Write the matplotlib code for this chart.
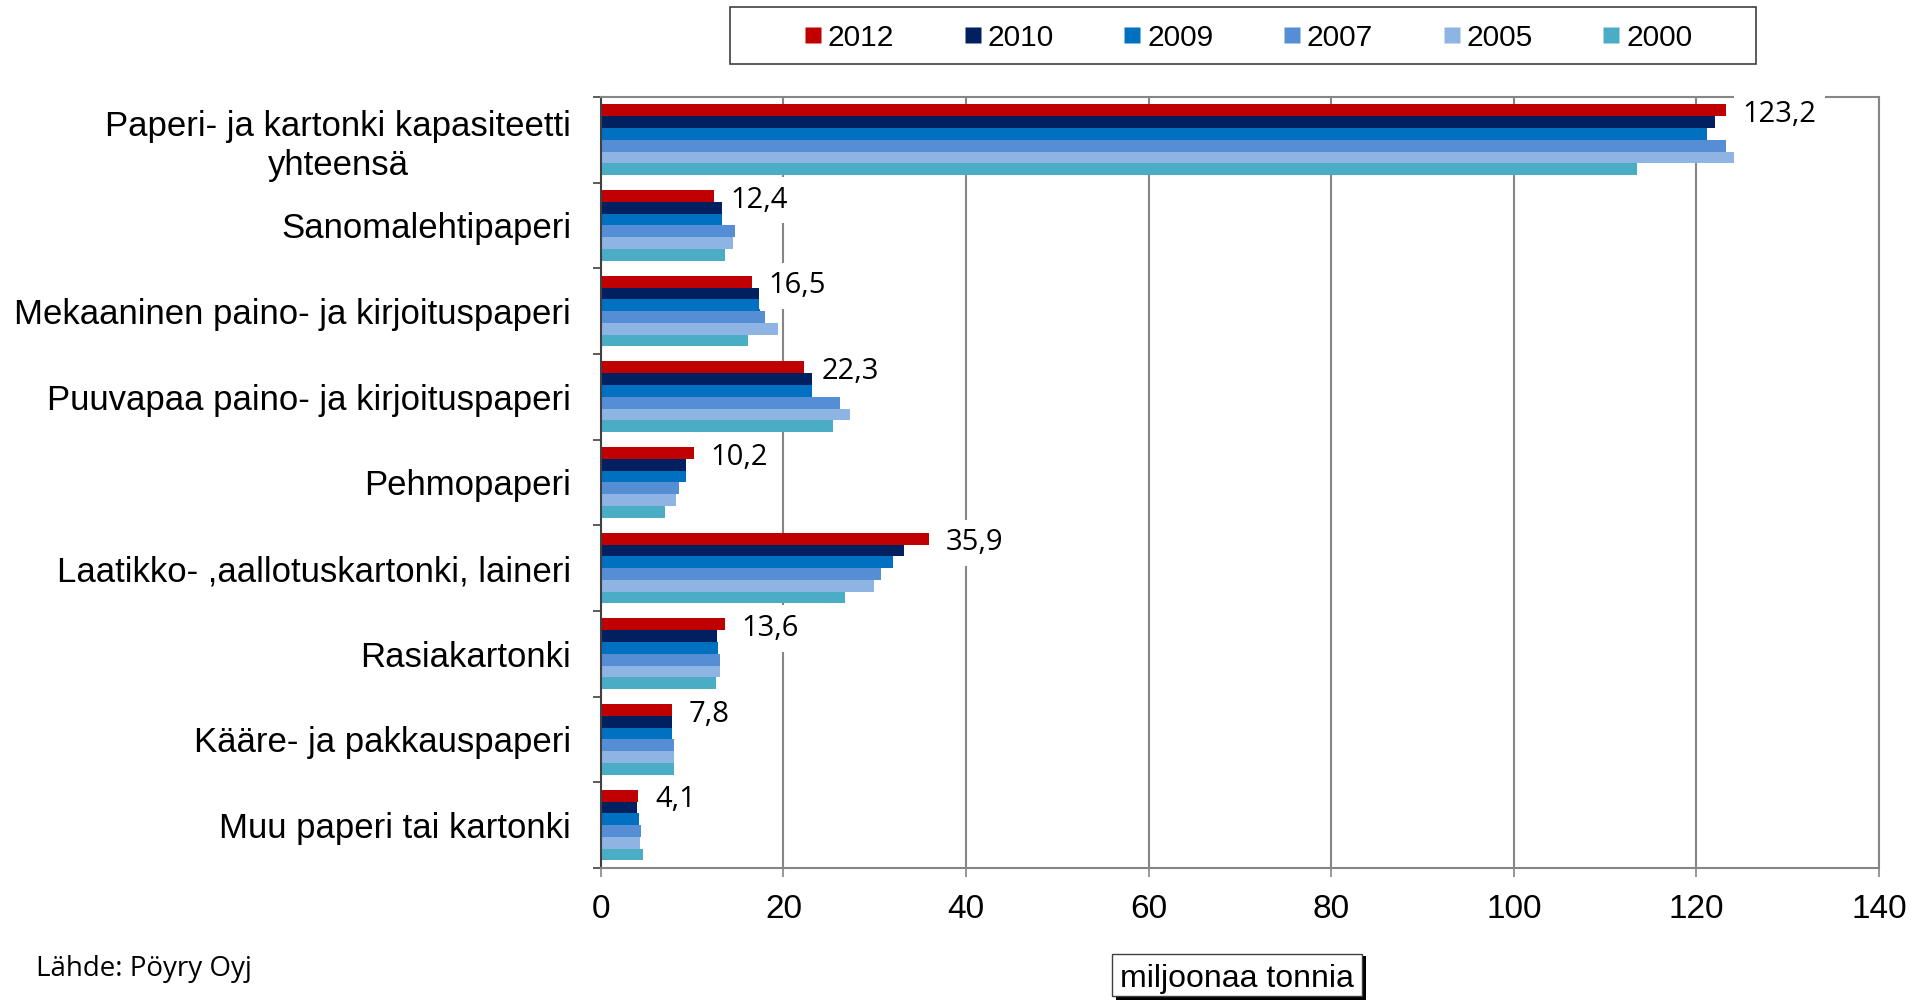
import matplotlib.pyplot as plt
from matplotlib.lines import Line2D
from matplotlib.patches import Rectangle
import numpy as np

kategoriat = [
    "Paperi- ja kartonki kapasiteetti\nyhteensä",
    "Sanomalehtipaperi",
    "Mekaaninen paino- ja kirjoituspaperi",
    "Puuvapaa paino- ja kirjoituspaperi",
    "Pehmopaperi",
    "Laatikko- ,aallotuskartonki, laineri",
    "Rasiakartonki",
    "Kääre- ja pakkauspaperi",
    "Muu paperi tai kartonki",
]
vuodet = ["2012", "2010", "2009", "2007", "2005", "2000"]
v2012 = [123.2, 12.4, 16.5, 22.3, 10.2, 35.9, 13.6, 7.8, 4.1]
v2010 = [122.0, 13.3, 17.4, 23.1, 9.3, 33.2, 12.7, 7.8, 4.0]
v2009 = [121.2, 13.3, 17.4, 23.1, 9.3, 32.0, 12.8, 7.8, 4.2]
v2007 = [123.2, 14.7, 18.0, 26.2, 8.5, 30.7, 13.0, 8.0, 4.4]
v2005 = [124.1, 14.5, 19.4, 27.3, 8.2, 29.9, 13.0, 8.0, 4.3]
v2000 = [113.5, 13.6, 16.1, 25.4, 7.0, 26.7, 12.6, 8.0, 4.6]
sarjat = [v2012, v2010, v2009, v2007, v2005, v2000]
varit = ["#C00000", "#002060", "#0070C0", "#558ED5", "#8EB4E3", "#4BACC6"]

harmaa = "#868686"

fig = plt.figure(figsize=(19.26, 10.01), dpi=100)
ax = fig.add_axes([0.3120, 0.1329, 0.6636, 0.7702])

y = np.arange(len(kategoriat))
h = 0.1375
for j, (arvot, vari) in enumerate(zip(sarjat, varit)):
    ax.barh(y - 0.4125 + h * (j + 0.5), arvot, height=h, color=vari,
            edgecolor="none", zorder=2)

# arvot 2012 palkkien perään
for i, arvo in enumerate(v2012):
    ax.annotate(f"{arvo:.1f}".replace(".", ","),
                xy=(arvo, y[i] - 0.4125 + h * 0.5), xytext=(12, -3),
                textcoords="offset points", ha="left", va="center",
                fontsize=21, family="Open Sans", zorder=5,
                bbox=dict(boxstyle="square,pad=0.3", fc="white", ec="none"))

ax.set_xlim(0, 140)
ax.set_ylim(len(kategoriat) - 0.5, -0.5)
ax.set_xticks(range(0, 141, 20))
ax.xaxis.grid(True, color=harmaa, linewidth=1.5)
ax.set_axisbelow(True)

ax.set_yticks(y)
ax.set_yticklabels(kategoriat, fontsize=25, family="Liberation Sans",
                   multialignment="center")
ax.set_yticks(np.arange(-0.5, len(kategoriat)), minor=True)
ax.tick_params(axis="y", which="major", length=0, pad=21.5)
ax.tick_params(axis="y", which="minor", length=6, width=1.2, color="#404040")
ax.tick_params(axis="x", length=6.5, width=1.2, color=harmaa, pad=12,
               labelsize=24)
for t in ax.get_xticklabels():
    t.set_family("Liberation Sans")

for s in ["top", "right", "bottom"]:
    ax.spines[s].set_color(harmaa)
    ax.spines[s].set_linewidth(1.5)
ax.spines["left"].set_color("#404040")
ax.spines["left"].set_linewidth(1.5)

# selite
kahvat = [Line2D([], [], marker="s", linestyle="none", markersize=12,
                 markerfacecolor=c, markeredgecolor="none") for c in varit]
fig.patches.append(Rectangle((730 / 1926, 1 - 64 / 1001), 1026 / 1926, 57 / 1001,
                             transform=fig.transFigure, fc="white",
                             ec="#404040", lw=1.2, zorder=1))
fig.legend(kahvat, vuodet, loc="center", bbox_to_anchor=(0.648, 0.9625),
           ncol=6, frameon=False, handlelength=0.6, handletextpad=0.2,
           columnspacing=2.33, prop={"family": "Liberation Sans", "size": 21.5})

fig.text(36 / 1926, 1 - 969 / 1001, "Lähde: Pöyry Oyj", ha="left", va="center",
         fontsize=20, family="Open Sans")

# yksikkölaatikko varjolla
fig.patches.append(Rectangle((1116 / 1926, 1 - 1000 / 1001), 250 / 1926, 44 / 1001,
                             transform=fig.transFigure, fc="black", ec="none"))
fig.patches.append(Rectangle((1112 / 1926, 1 - 996 / 1001), 250 / 1926, 42 / 1001,
                             transform=fig.transFigure, fc="white",
                             ec="#404040", lw=1))
fig.text(1237 / 1926, 1 - 979 / 1001, "miljoonaa tonnia", ha="center",
         va="center", fontsize=23, family="Liberation Sans")

fig.savefig("out.png", dpi=100)
